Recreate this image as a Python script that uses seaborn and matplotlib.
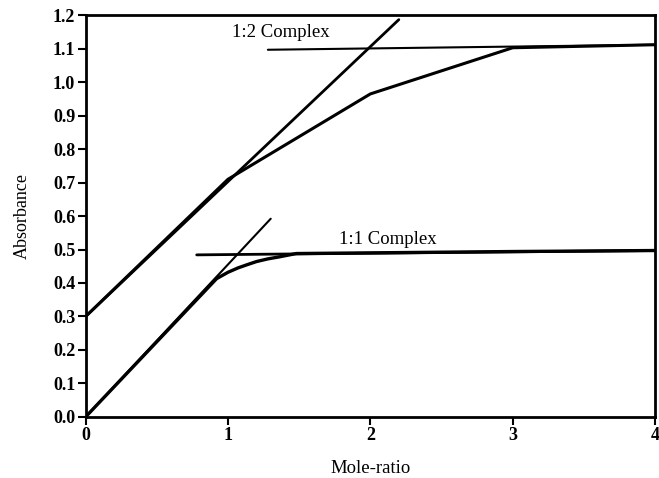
import numpy as np
import pandas as pd
import matplotlib
matplotlib.use("Agg")
import matplotlib.pyplot as plt
import seaborn as sns

# 1:2 complex curve (experimental)
c12_x = [0.0, 1.0, 2.0, 3.0, 4.0]
c12_y = [0.30, 0.71, 0.965, 1.103, 1.112]
# 1:2 tangent lines
t12_rise_x = [0.0, 2.2]
t12_rise_y = [0.30, 1.187]
t12_flat_x = [1.28, 4.0]
t12_flat_y = [1.097, 1.112]

# 1:1 complex curve
c11_x = [0.0, 0.92, 1.0, 1.07, 1.13, 1.2, 1.28, 1.36, 1.48, 2.0, 3.0, 4.0]
c11_y = [0.0, 0.413, 0.432, 0.445, 0.454, 0.464, 0.472, 0.478, 0.488, 0.490, 0.494, 0.497]
# 1:1 tangent lines
t11_rise_x = [0.0, 1.30]
t11_rise_y = [0.0, 0.592]
t11_flat_x = [0.78, 4.0]
t11_flat_y = [0.484, 0.497]

x_ticks = [0, 1, 2, 3, 4]
y_ticks = [0.0, 0.1, 0.2, 0.3, 0.4, 0.5, 0.6, 0.7, 0.8, 0.9, 1.0, 1.1, 1.2]

sns.set_theme(style="white")
plt.rcParams['font.family'] = ['Liberation Serif', 'DejaVu Serif']

fig = plt.figure(figsize=(6.59, 4.78), dpi=100)
ax = fig.add_axes([0.13, 0.128, 0.864, 0.84])

def seg(xs, ys, lw):
    df = pd.DataFrame({"x": xs, "y": ys})
    sns.lineplot(data=df, x="x", y="y", ax=ax, color="black", linewidth=lw,
                 sort=False, estimator=None)

seg(t12_rise_x, t12_rise_y, 2.0)
seg(t12_flat_x, t12_flat_y, 1.5)
seg(c12_x, c12_y, 2.2)
seg(t11_rise_x, t11_rise_y, 1.5)
seg(t11_flat_x, t11_flat_y, 2.0)
seg(c11_x, c11_y, 2.4)

ax.text(1.37, 1.15, "1:2 Complex", ha="center", va="center", fontsize=13.5, color="black")
ax.text(2.12, 0.53, "1:1 Complex", ha="center", va="center", fontsize=13.5, color="black")

ax.set_xlim(0, 4)
ax.set_ylim(0, 1.2)
ax.set_xticks(x_ticks)
ax.set_xticklabels([str(v) for v in x_ticks], fontweight="bold")
ax.set_yticks(y_ticks)
ax.set_yticklabels([f"{v:.1f}" for v in y_ticks], fontweight="bold")
ax.set_xlabel("Mole-ratio", fontsize=13.5, labelpad=11, color="black")
ax.set_ylabel("Absorbance", fontsize=13, labelpad=16, color="black")
ax.tick_params(axis="both", direction="out", length=6, width=1.5, labelsize=13,
               colors="black", left=True, bottom=True, pad=1.5)
for s in ax.spines.values():
    s.set_color("black")
    s.set_linewidth(2)
ax.grid(False)

fig.savefig("out.png", dpi=100)
